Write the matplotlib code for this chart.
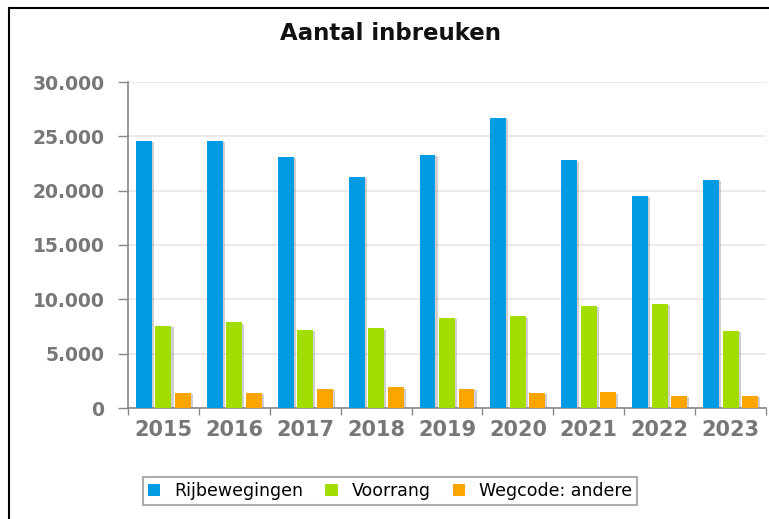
import matplotlib
matplotlib.use("Agg")
import matplotlib.pyplot as plt
import matplotlib.patheffects as pe
from matplotlib.patches import Patch
from matplotlib.lines import Line2D
from matplotlib.ticker import FuncFormatter, FixedLocator
import numpy as np

# DATA

jaren = ["2015", "2016", "2017", "2018", "2019", "2020", "2021", "2022", "2023"]
rijbewegingen = [24600, 24600, 23100, 21300, 23300, 26700, 22800, 19500, 21000]
voorrang = [7550, 7900, 7200, 7350, 8300, 8450, 9400, 9600, 7100]
wegcode_andere = [1400, 1400, 1750, 1900, 1750, 1400, 1450, 1100, 1100]

reeksen = ["Rijbewegingen", "Voorrang", "Wegcode: andere"]
kleuren = ["#009be2", "#a3dc00", "#fca400"]

# FIGUUR

fig = plt.figure(figsize=(7.69, 5.19), dpi=100)
ax = fig.add_axes([128 / 769, 1 - 408 / 519, (766 - 128) / 769, (408 - 82) / 519])

x = np.arange(len(jaren))
breedte = 0.225
stap = 0.275

schaduw = [pe.SimplePatchShadow(offset=(1.5, -1), alpha=0.35, shadow_rgbFace="#777777"),
           pe.Normal()]

for i, (waarden, kleur) in enumerate(zip([rijbewegingen, voorrang, wegcode_andere], kleuren)):
    bars = ax.bar(x + (i - 1) * stap, waarden, width=breedte, color=kleur,
                  zorder=3)
    for b in bars:
        b.set_path_effects(schaduw)

ax.set_xlim(-0.5, len(jaren) - 0.5)
ax.set_ylim(0, 30000)

# assen
ax.set_yticks(np.arange(0, 30001, 5000))
ax.yaxis.set_major_formatter(FuncFormatter(lambda v, p: f"{int(v):,}".replace(",", ".")))
ax.grid(axis="y", color="#e6e6e6", linewidth=1.2, zorder=0)
ax.tick_params(axis="y", length=7, width=1, color="#888888", pad=10,
               labelsize=13.5, labelcolor="#777777")
for lab in ax.get_yticklabels():
    lab.set_fontweight("bold")

ax.set_xticks(x)
ax.set_xticklabels(jaren, fontweight="bold")
ax.xaxis.set_minor_locator(FixedLocator(np.arange(-0.5, len(jaren), 1.0)))
ax.tick_params(axis="x", which="major", length=0, pad=9,
               labelsize=15, labelcolor="#777777")
ax.tick_params(axis="x", which="minor", length=5, width=1, color="#888888")

for kant in ["top", "right"]:
    ax.spines[kant].set_visible(False)
for kant in ["left", "bottom"]:
    ax.spines[kant].set_color("#888888")
    ax.spines[kant].set_linewidth(1.2)
ax.spines["left"].set_zorder(4)

# titel
fig.text(391 / 769, 1 - 34 / 519, "Aantal inbreuken", ha="center", va="center",
         fontsize=16.5, fontweight="bold", color="#111111")

# legenda
handles = [Patch(facecolor=k, edgecolor="none") for k in kleuren]
leg = fig.legend(handles, reeksen, loc="center", bbox_to_anchor=(390 / 769, 1 - 491 / 519),
                 ncol=3, frameon=True, fancybox=False, fontsize=12.5,
                 handlelength=0.7, handleheight=0.7, handletextpad=0.8,
                 columnspacing=1.3, borderpad=0.3)
leg.get_frame().set_edgecolor("#999999")
leg.get_frame().set_linewidth(1.5)

# kader
fig.add_artist(Line2D([9 / 769, 1], [1 - 8 / 519, 1 - 8 / 519], color="black", linewidth=1.5))
fig.add_artist(Line2D([9 / 769, 9 / 769], [0, 1 - 8 / 519], color="black", linewidth=1.5))

fig.savefig("out.png", dpi=100)
